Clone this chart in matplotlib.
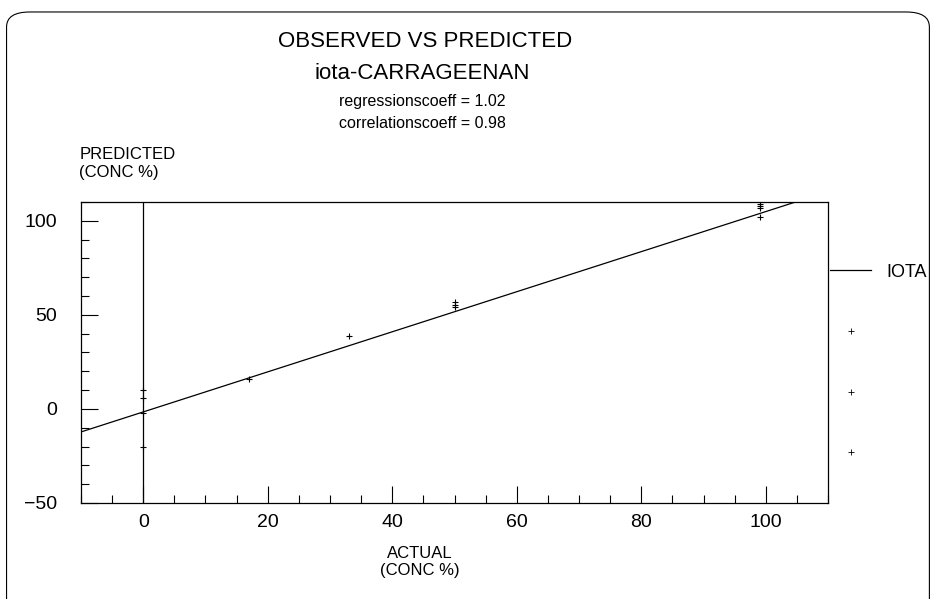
import matplotlib
matplotlib.use("Agg")
import matplotlib.pyplot as plt
from matplotlib.patches import FancyBboxPatch
from matplotlib.lines import Line2D
from matplotlib.ticker import MultipleLocator

plt.rcParams['font.family'] = ['Liberation Sans', 'DejaVu Sans']

# observed (actual) vs predicted concentrations
actual = [0, 0, 0, 0, 17, 33, 50, 50, 50, 99, 99, 99, 99]
predicted = [10, 6, -2, -20, 16, 39, 57, 55, 54, 109, 107, 108, 102]

# fitted line
slope = 1.065
intercept = -1.6
line_x = [-10, 110]

title_lines = ["OBSERVED VS PREDICTED", "iota-CARRAGEENAN"]
stats_lines = ["regressionscoeff = 1.02", "correlationscoeff = 0.98"]


def main():
    fig = plt.figure(figsize=(9.35, 5.99), dpi=100)

    # rounded frame around the whole chart
    frame = FancyBboxPatch((0.007, -0.05), 0.987, 1.03,
                           boxstyle="round,pad=0,rounding_size=0.025",
                           transform=fig.transFigure, fill=False,
                           edgecolor='black', linewidth=0.8)
    fig.patches.append(frame)

    ax = fig.add_axes([0.0866, 0.1603, 0.799, 0.5025])

    ax.plot(actual, predicted, '+', color='black', markersize=5, markeredgewidth=0.8)
    ax.plot(line_x, [slope * x + intercept for x in line_x], '-', color='black', linewidth=0.9)
    ax.axvline(0, color='black', linewidth=0.9)

    ax.set_xlim(-10, 110)
    ax.set_ylim(-50, 110)
    ax.xaxis.set_major_locator(MultipleLocator(20))
    ax.xaxis.set_minor_locator(MultipleLocator(5))
    ax.yaxis.set_major_locator(MultipleLocator(50))
    ax.yaxis.set_minor_locator(MultipleLocator(10))
    ax.tick_params(which='both', direction='in', top=False, right=False,
                   labelsize=14, width=0.8)
    ax.tick_params(which='major', length=12)
    ax.tick_params(which='minor', length=6)
    ax.tick_params(axis='x', pad=8)
    ax.tick_params(axis='y', pad=17)
    for s in ax.spines.values():
        s.set_linewidth(0.9)

    fig.text(0.085, 0.70, "PREDICTED\n(CONC %)", fontsize=12, ha='left', va='bottom',
             linespacing=1.2)
    fig.text(0.449, 0.035, "ACTUAL\n(CONC %)", fontsize=12, ha='center', va='bottom',
             linespacing=1.2)

    fig.text(0.455, 0.930, title_lines[0], fontsize=16, ha='center', va='center')
    fig.text(0.452, 0.878, title_lines[1], fontsize=16, ha='center', va='center')
    fig.text(0.452, 0.831, stats_lines[0], fontsize=11.5, ha='center', va='center')
    fig.text(0.452, 0.793, stats_lines[1], fontsize=11.5, ha='center', va='center')

    handles = [Line2D([], [], color='black', linewidth=0.9)]
    labels = ["IOTA"]
    for _ in range(3):
        handles.append(Line2D([], [], marker='+', linestyle='none', color='black',
                              markersize=4, markeredgewidth=0.6))
        labels.append("")
    fig.legend(handles, labels, loc='upper left', bbox_to_anchor=(0.878, 0.575),
               frameon=False, fontsize=13, handlelength=2.3, handletextpad=0.8,
               labelspacing=2.42, borderpad=0)

    fig.savefig("out.png", dpi=100)


if __name__ == "__main__":
    main()
